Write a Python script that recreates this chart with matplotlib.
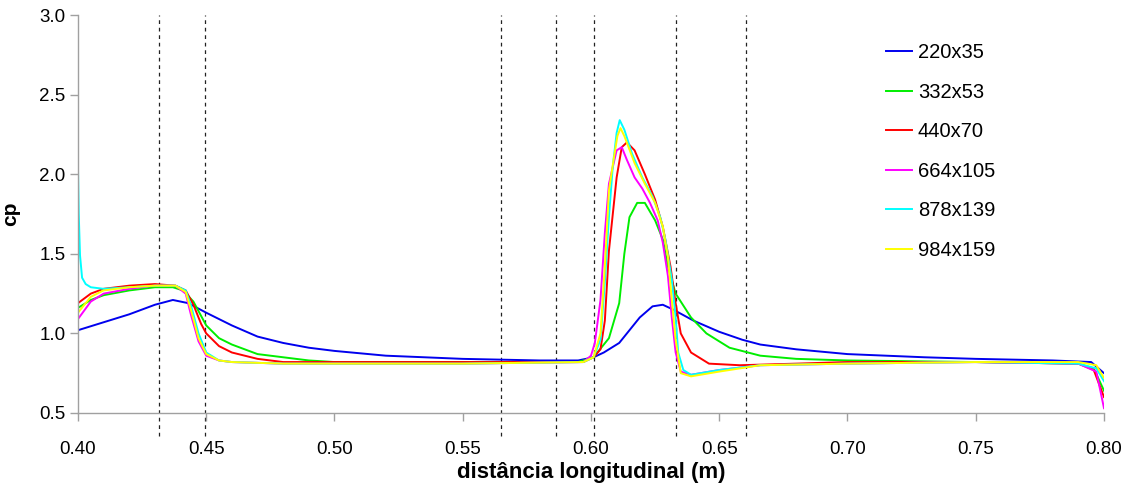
import matplotlib
matplotlib.use('Agg')
import matplotlib.pyplot as plt

plt.rcParams['font.family'] = ['Liberation Sans', 'DejaVu Sans']

# malhas e cores
malhas = ['220x35', '332x53', '440x70', '664x105', '878x139', '984x159']
cores = ['#0000ee', '#00ee00', '#ff0000', '#ff00ff', '#00ffff', '#ffff00']

# 220x35
x_220 = [0.400, 0.410, 0.420, 0.430, 0.437, 0.443, 0.450, 0.460, 0.470, 0.480, 0.490,
         0.500, 0.520, 0.550, 0.580, 0.595, 0.601, 0.605, 0.611, 0.619, 0.624, 0.628,
         0.632, 0.640, 0.650, 0.659, 0.666, 0.680, 0.700, 0.730, 0.750, 0.780, 0.795,
         0.800]
cp_220 = [1.02, 1.07, 1.12, 1.18, 1.21, 1.19, 1.13, 1.05, 0.98, 0.94, 0.91,
          0.89, 0.86, 0.84, 0.83, 0.83, 0.85, 0.88, 0.94, 1.10, 1.17, 1.18,
          1.15, 1.08, 1.01, 0.96, 0.93, 0.90, 0.87, 0.85, 0.84, 0.83, 0.82,
          0.75]

# 332x53
x_332 = [0.400, 0.405, 0.410, 0.420, 0.430, 0.437, 0.441, 0.445, 0.450, 0.455, 0.460,
         0.470, 0.480, 0.490, 0.500, 0.550, 0.595, 0.601, 0.607, 0.611, 0.613, 0.615,
         0.618, 0.621, 0.625, 0.628, 0.630, 0.633, 0.639, 0.645, 0.654, 0.666, 0.680,
         0.700, 0.750, 0.790, 0.796, 0.800]
cp_332 = [1.16, 1.21, 1.24, 1.27, 1.29, 1.29, 1.27, 1.20, 1.05, 0.97, 0.93,
          0.87, 0.85, 0.83, 0.82, 0.82, 0.82, 0.85, 0.97, 1.19, 1.50, 1.73,
          1.82, 1.82, 1.71, 1.59, 1.42, 1.25, 1.10, 1.00, 0.91, 0.86, 0.84,
          0.83, 0.82, 0.81, 0.78, 0.64]

# 440x70
x_440 = [0.400, 0.405, 0.410, 0.420, 0.430, 0.438, 0.442, 0.445, 0.448, 0.450, 0.455,
         0.460, 0.470, 0.480, 0.500, 0.550, 0.597, 0.601, 0.6037, 0.6054, 0.607, 0.610,
         0.612, 0.614, 0.617, 0.621, 0.625, 0.628, 0.631, 0.633, 0.635, 0.639, 0.646,
         0.658, 0.680, 0.700, 0.750, 0.790, 0.796, 0.800]
cp_440 = [1.19, 1.25, 1.28, 1.30, 1.31, 1.30, 1.27, 1.18, 1.06, 1.00, 0.92,
          0.88, 0.84, 0.82, 0.82, 0.82, 0.82, 0.85, 0.90, 1.08, 1.52, 1.98,
          2.17, 2.20, 2.15, 2.00, 1.84, 1.67, 1.42, 1.19, 1.00, 0.88, 0.81,
          0.80, 0.81, 0.82, 0.82, 0.81, 0.77, 0.60]

# 664x105
x_664 = [0.400, 0.405, 0.410, 0.420, 0.430, 0.438, 0.442, 0.444, 0.447, 0.450, 0.455,
         0.460, 0.480, 0.550, 0.597, 0.600, 0.6015, 0.6037, 0.6054, 0.607, 0.610, 0.612,
         0.614, 0.617, 0.620, 0.623, 0.626, 0.628, 0.630, 0.6315, 0.633, 0.635, 0.639,
         0.650, 0.666, 0.700, 0.750, 0.790, 0.797, 0.800]
cp_664 = [1.09, 1.20, 1.25, 1.28, 1.30, 1.30, 1.25, 1.12, 0.95, 0.86, 0.83,
          0.82, 0.81, 0.81, 0.82, 0.86, 0.94, 1.21, 1.63, 1.94, 2.15, 2.17,
          2.09, 1.98, 1.91, 1.82, 1.71, 1.57, 1.36, 1.10, 0.88, 0.76, 0.74,
          0.77, 0.80, 0.81, 0.82, 0.81, 0.76, 0.53]

# 878x139
x_878 = [0.400, 0.4003, 0.4008, 0.4016, 0.4030, 0.4050, 0.410, 0.420, 0.430, 0.438, 0.442,
         0.444, 0.447, 0.450, 0.455, 0.460, 0.480, 0.550, 0.597, 0.601, 0.6037, 0.6054,
         0.607, 0.6085, 0.610, 0.6112, 0.613, 0.616, 0.620, 0.624, 0.627, 0.629, 0.6315,
         0.633, 0.634, 0.636, 0.639, 0.650, 0.666, 0.700, 0.750, 0.790, 0.797, 0.800]
cp_878 = [2.05, 1.75, 1.49, 1.35, 1.31, 1.29, 1.28, 1.29, 1.30, 1.30, 1.27,
          1.18, 1.00, 0.88, 0.83, 0.82, 0.81, 0.81, 0.82, 0.85, 0.96, 1.32,
          1.73, 2.05, 2.26, 2.34, 2.28, 2.13, 1.98, 1.86, 1.73, 1.59, 1.34,
          1.10, 0.88, 0.77, 0.74, 0.77, 0.80, 0.81, 0.82, 0.81, 0.78, 0.70]

# 984x159
x_984 = [0.400, 0.405, 0.410, 0.420, 0.430, 0.438, 0.442, 0.444, 0.447, 0.450, 0.455,
         0.460, 0.480, 0.550, 0.597, 0.601, 0.6037, 0.6054, 0.607, 0.609, 0.6103, 0.6115,
         0.613, 0.617, 0.621, 0.625, 0.628, 0.630, 0.6315, 0.633, 0.635, 0.639, 0.650,
         0.666, 0.700, 0.750, 0.790, 0.797, 0.800]
cp_984 = [1.13, 1.23, 1.27, 1.29, 1.30, 1.30, 1.26, 1.15, 0.97, 0.87, 0.83,
          0.82, 0.81, 0.81, 0.82, 0.85, 1.00, 1.42, 1.90, 2.11, 2.24, 2.29,
          2.24, 2.07, 1.94, 1.82, 1.67, 1.48, 1.21, 0.96, 0.75, 0.73, 0.76,
          0.80, 0.81, 0.82, 0.82, 0.80, 0.72]

series_x = [x_220, x_332, x_440, x_664, x_878, x_984]
series_cp = [cp_220, cp_332, cp_440, cp_664, cp_878, cp_984]

# posições das linhas verticais tracejadas
x_ref = [0.4314, 0.4494, 0.5651, 0.5865, 0.6010, 0.6331, 0.6603]

fig = plt.figure(figsize=(11.3, 4.87), dpi=100)
ax = fig.add_axes([0.069, 0.152, 0.908, 0.817])

for xr in x_ref:
    ax.plot([xr, xr], [0.355, 3.0], color='#222222', lw=0.9,
            linestyle=(0, (3, 3)), clip_on=False, zorder=1)

for xs, ys, nome, cor in zip(series_x, series_cp, malhas, cores):
    ax.plot(xs, ys, color=cor, lw=1.4, label=nome, zorder=2)

ax.set_xlim(0.40, 0.80)
ax.set_ylim(0.5, 3.0)
ax.set_xticks([0.40, 0.45, 0.50, 0.55, 0.60, 0.65, 0.70, 0.75, 0.80])
ax.set_yticks([0.5, 1.0, 1.5, 2.0, 2.5, 3.0])
ax.xaxis.set_major_formatter(plt.FuncFormatter(lambda v, p: f'{v:.2f}'))
ax.yaxis.set_major_formatter(plt.FuncFormatter(lambda v, p: f'{v:.1f}'))

for lado in ['top', 'right']:
    ax.spines[lado].set_visible(False)
for lado in ['left', 'bottom']:
    ax.spines[lado].set_color('#a0a0a0')
    ax.spines[lado].set_linewidth(1.0)
ax.tick_params(axis='both', direction='out', length=6, width=1.0, color='#a0a0a0',
               labelsize=13.5, labelcolor='black')
ax.tick_params(axis='x', pad=14)
ax.tick_params(axis='y', pad=3)

ax.set_xlabel('distância longitudinal (m)', fontsize=16, fontweight='bold', labelpad=3)
ax.set_ylabel('cp', fontsize=15, fontweight='bold', labelpad=14)

ax.legend(loc='upper left', bbox_to_anchor=(0.770, 0.975), frameon=False, fontsize=14.5,
          handlelength=1.3, handletextpad=0.28, labelspacing=1.02)

fig.savefig('out.png', dpi=100)
